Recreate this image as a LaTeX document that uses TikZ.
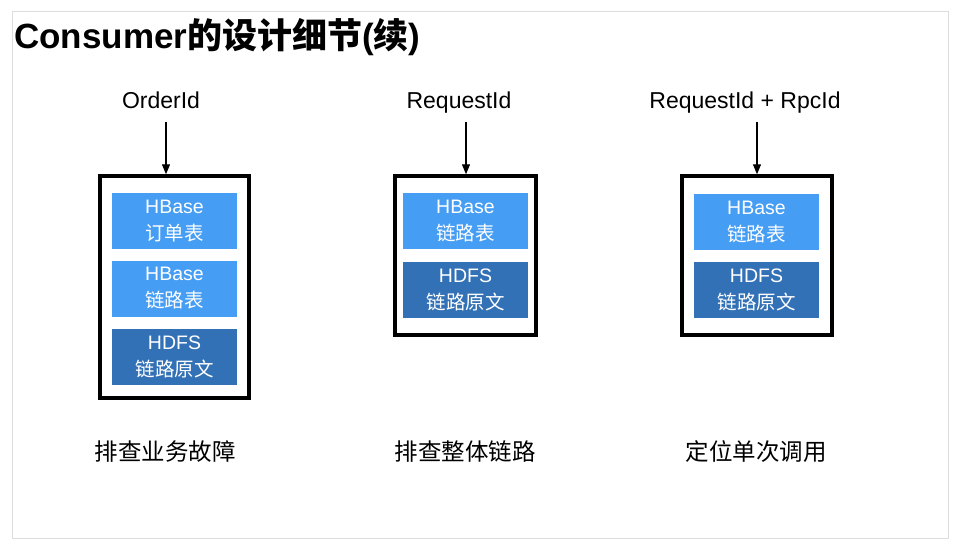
\documentclass[tikz,border=0pt]{standalone}
\usepackage{fontspec}
\setmainfont{Liberation Sans}
\newfontfamily\cjk{Noto Sans CJK SC}
\usetikzlibrary{arrows.meta}
\definecolor{framegray}{HTML}{DDDDDD}
\definecolor{hbaseblue}{HTML}{469DF4}
\definecolor{hdfsblue}{HTML}{3371B6}

\tikzset{
  store/.style={
    fill=#1,
    draw=none,
    text=white,
    minimum width=125pt,
    minimum height=56pt,
    inner sep=0pt,
    align=center,
    font=\fontsize{19.5}{27}\selectfont
  },
  holder/.style={draw=black, line width=3.5pt, inner sep=0pt},
  keylabel/.style={anchor=base, inner sep=0pt, font=\fontsize{23}{28}\selectfont},
  uselabel/.style={anchor=base, inner sep=0pt, font=\cjk\fontsize{23.5}{28}\selectfont},
  feed/.style={-{Triangle[length=10pt,width=8pt]}, line width=1.3pt}
}

\begin{document}
\begin{tikzpicture}[x=1pt, y=-1pt]
  \useasboundingbox (0,0) rectangle (958,558);
  \draw[framegray, line width=1pt] (12,11) rectangle (948,538);

  % title
  \node[anchor=base west, inner sep=0pt, font=\bfseries\fontsize{35}{40}\selectfont]
    (title) at (14,48) {Consumer{\cjk 的设计细节}({\cjk 续})};

  % query keys
  \node[keylabel] (ord) at (161,108) {OrderId};
  \node[keylabel] (req) at (459,108) {RequestId};
  \node[keylabel] (rpc) at (745,108) {RequestId + RpcId};

  % storage groups
  \node[holder, minimum width=149pt, minimum height=222pt] (box1) at (174.5,287) {};
  \node[holder, minimum width=141pt, minimum height=159pt] (box2) at (465.5,255.5) {};
  \node[holder, minimum width=150pt, minimum height=159pt] (box3) at (757,255.5) {};

  \node[store=hbaseblue] (ordtab) at (174.5,221) {HBase\\{\cjk 订单表}};
  \node[store=hbaseblue] (trace1) at (174.5,288.5) {HBase\\{\cjk 链路表}};
  \node[store=hdfsblue] (raw1) at (174.5,357) {HDFS\\{\cjk 链路原文}};

  \node[store=hbaseblue] (trace2) at (465.5,221) {HBase\\{\cjk 链路表}};
  \node[store=hdfsblue] (raw2) at (465.5,289.5) {HDFS\\{\cjk 链路原文}};

  \node[store=hbaseblue] (trace3) at (756.5,222) {HBase\\{\cjk 链路表}};
  \node[store=hdfsblue] (raw3) at (756.5,290) {HDFS\\{\cjk 链路原文}};

  % arrows
  \coordinate (a1) at (166,122);
  \coordinate (a2) at (466,122);
  \coordinate (a3) at (757,122);
  \draw[feed] (a1) -- (a1 |- box1.north);
  \draw[feed] (a2) -- (a2 |- box2.north);
  \draw[feed] (a3) -- (a3 |- box3.north);

  % purposes
  \node[uselabel] (use1) at (165,460) {排查业务故障};
  \node[uselabel] (use2) at (465,460) {排查整体链路};
  \node[uselabel] (use3) at (756,460) {定位单次调用};
\end{tikzpicture}
\end{document}
